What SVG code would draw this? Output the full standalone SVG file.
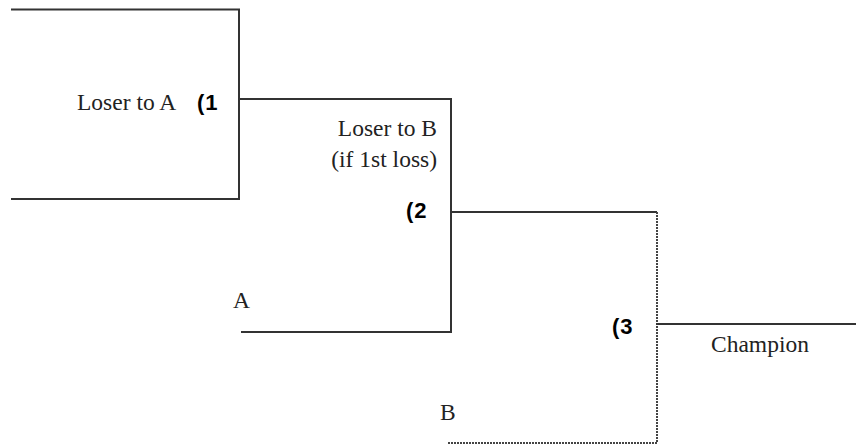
<svg xmlns="http://www.w3.org/2000/svg" width="856" height="445" viewBox="0 0 856 445">
<style>
.ln{stroke:#333;stroke-width:2;fill:none}
.dl{stroke:#444;stroke-width:2;fill:none;stroke-dasharray:2 1}
.t{font-family:"Liberation Serif","Times New Roman",serif;font-size:23.5px;fill:#222}
.n{font-family:"Liberation Sans",Arial,sans-serif;font-size:22px;font-weight:bold;fill:#000;letter-spacing:1px}
</style>
<rect width="856" height="445" fill="#fff"/>
<g id="connectors">
<polyline class="ln" points="11,9.5 239,9.5 239,199 11,199"/>
<polyline class="ln" points="239,99 451,99 451,332 241,332"/>
<polyline class="ln" points="451,212 657,212"/>
<polyline class="dl" points="657,212 657,443 447,443"/>
<polyline class="ln" points="656,324 856,324"/>
</g>
<g id="match1">
<text class="t" x="77" y="110">Loser to A</text>
<text class="n" x="197" y="110">(1</text>
</g>
<g id="match2">
<text class="t" x="437" y="136" text-anchor="end">Loser to B</text>
<text class="t" x="437" y="167" text-anchor="end">(if 1st loss)</text>
<text class="n" x="406" y="218">(2</text>
</g>
<g id="teamA">
<text class="t" x="233" y="308">A</text>
</g>
<g id="match3">
<text class="n" x="612" y="334">(3</text>
</g>
<g id="champion">
<text class="t" x="711" y="352">Champion</text>
</g>
<g id="teamB">
<text class="t" x="440" y="420">B</text>
</g>
</svg>
